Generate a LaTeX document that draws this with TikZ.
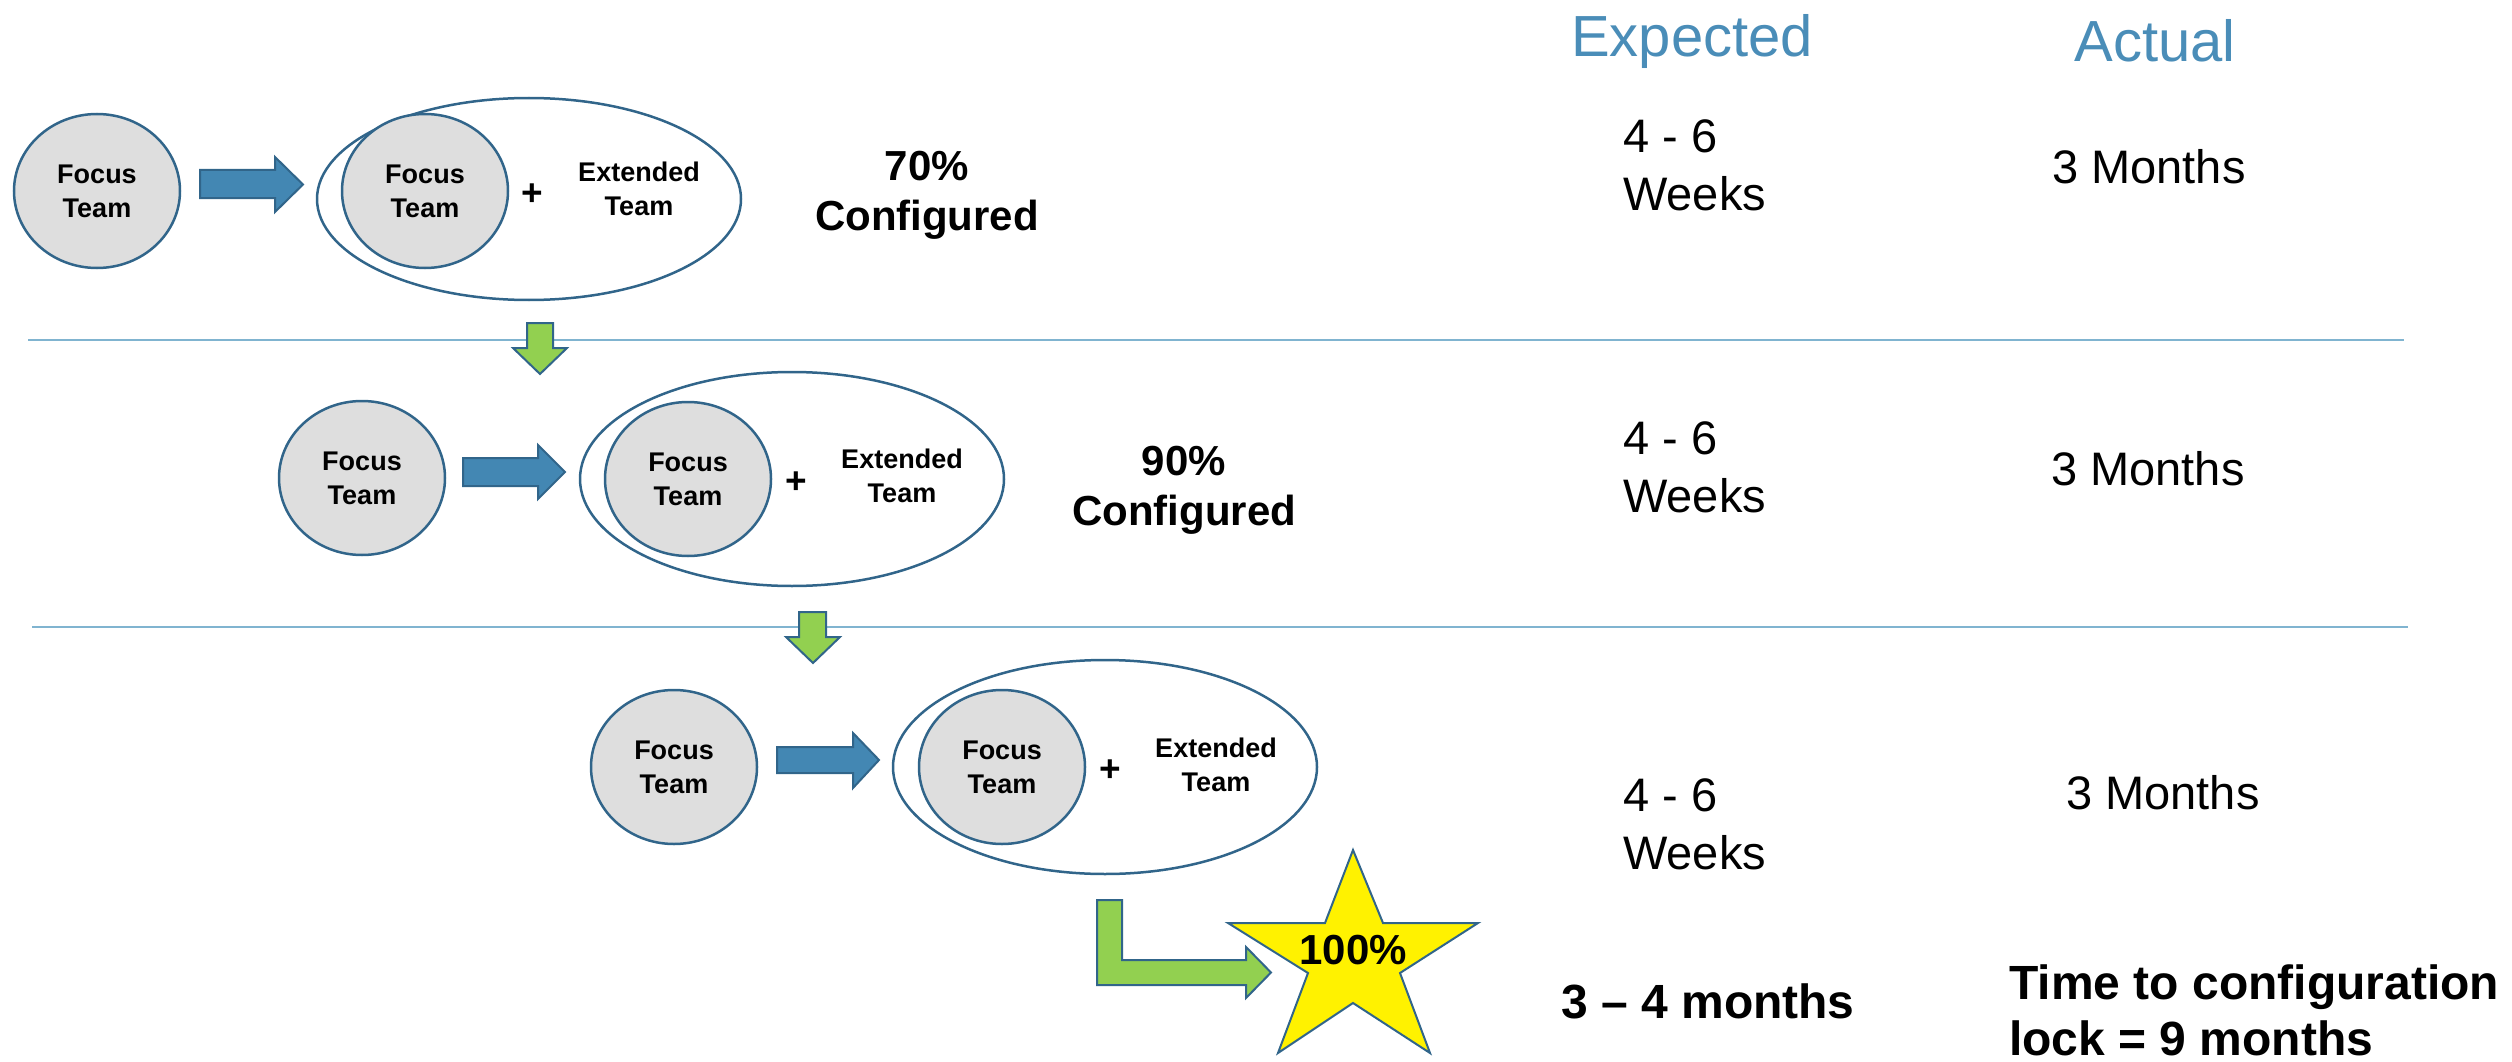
\documentclass[tikz,border=0pt]{standalone}
\usepackage{fontspec}
\setmainfont{Liberation Sans}
\usepackage{xcolor}
\usetikzlibrary{shapes.geometric}

\definecolor{edgeblue}{HTML}{31658A}
\definecolor{arrowblue}{HTML}{4387B3}
\definecolor{teamgray}{HTML}{DEDEDE}
\definecolor{stepgreen}{HTML}{92D050}
\definecolor{rulecol}{HTML}{80B4D0}
\definecolor{headblue}{HTML}{4A8DB8}

\tikzset{
  team/.style={ellipse, draw=edgeblue, line width=2.5pt, fill=teamgray,
    minimum width=166pt, minimum height=154pt, inner sep=0pt,
    align=center, font=\bfseries\fontsize{27}{34}\selectfont},
  group/.style={ellipse, draw=edgeblue, line width=2.5pt, fill=white,
    minimum width=424pt, minimum height=214pt, inner sep=0pt},
  teamtext/.style={align=center, inner sep=0pt, font=\bfseries\fontsize{27}{34}\selectfont},
  plus/.style={inner sep=0pt, font=\bfseries\fontsize{37}{40}\selectfont},
  pct/.style={align=center, inner sep=0pt, font=\bfseries\fontsize{42}{50}\selectfont},
  colhead/.style={inner sep=0pt, text=headblue, font=\fontsize{58}{64}\selectfont},
  weeks/.style={align=left, inner sep=0pt, anchor=west, font=\fontsize{47}{58}\selectfont},
  months/.style={inner sep=0pt, font=\fontsize{47}{58}\selectfont},
  total/.style={align=left, inner sep=0pt, font=\bfseries\fontsize{48}{56}\selectfont},
  bluearrow/.style={fill=arrowblue, draw=edgeblue, line width=2pt},
  greenarrow/.style={fill=stepgreen, draw=edgeblue, line width=2pt},
  rowline/.style={draw=rulecol, line width=2.5pt}
}

\begin{document}
\begin{tikzpicture}[x=1pt,y=-1pt]
  \useasboundingbox (0,0) rectangle (2512,1062);

  % separators between the rounds
  \draw[rowline] (28,340) -- (2404,340);
  \draw[rowline] (32,627) -- (2408,627);

  % first round
  \node[group, minimum height=202pt] (g1) at (529,199) {};
  \node[team] (f1) at (97,191) {Focus\\Team};
  \node[team] (i1) at (425,191) {Focus\\Team};
  \node[plus] (p1) at (532,195) {+};
  \node[teamtext] (x1) at (639,189) {Extended\\Team};
  \draw[bluearrow] (200,170) -- (275,170) -- (275,157) -- (303,184.5)
    -- (275,212) -- (275,198) -- (200,198) -- cycle;
  \node[pct] (c1) at (927,195) {70\%\\Configured};

  % second round
  \draw[greenarrow] (527,323) -- (553,323) -- (553,348) -- (567,348)
    -- (540,374) -- (513,348) -- (527,348) -- cycle;
  \node[group] (g2) at (792,479) {};
  \node[team] (f2) at (362,478) {Focus\\Team};
  \node[team] (i2) at (688,479) {Focus\\Team};
  \node[plus] (p2) at (796,483) {+};
  \node[teamtext] (x2) at (902,476) {Extended\\Team};
  \draw[bluearrow] (463,458) -- (538,458) -- (538,445) -- (565,472)
    -- (538,499) -- (538,486) -- (463,486) -- cycle;
  \node[pct] (c2) at (1184,490) {90\%\\Configured};

  % third round
  \draw[greenarrow] (799,612) -- (826,612) -- (826,637) -- (840,637)
    -- (813,663) -- (786,637) -- (799,637) -- cycle;
  \node[group] (g3) at (1105,767) {};
  \node[team] (f3) at (674,767) {Focus\\Team};
  \node[team] (i3) at (1002,767) {Focus\\Team};
  \node[plus] (p3) at (1110,771) {+};
  \node[teamtext] (x3) at (1216,765) {Extended\\Team};
  \draw[bluearrow] (777,747) -- (853,747) -- (853,733) -- (879,760)
    -- (853,788) -- (853,773) -- (777,773) -- cycle;

  % bent arrow to the star
  \draw[greenarrow] (1097,900) -- (1122,900) -- (1122,960) -- (1246,960)
    -- (1246,947) -- (1271,972.5) -- (1246,998) -- (1246,985)
    -- (1097,985) -- cycle;
  \draw[fill=yellow, draw=edgeblue, line width=2pt]
    (1353,850) -- (1383,923) -- (1478,923) -- (1400,973) -- (1430,1053)
    -- (1353,1003) -- (1278,1053) -- (1308,973) -- (1228,923)
    -- (1325,923) -- cycle;
  \node[pct] (full) at (1353,950) {100\%};

  % timings
  \node[colhead, anchor=base] (expected) at (1692,57) {Expected};
  \node[colhead, anchor=base] (actual) at (2155,62) {Actual};

  \node[weeks] (w1) at (1623,165) {4 - 6\\Weeks};
  \node[weeks] (w2) at (1623,467) {4 - 6\\Weeks};
  \node[weeks] (w3) at (1623,824) {4 - 6\\Weeks};
  \node[months] (m1) at (2149,167) {3 Months};
  \node[months] (m2) at (2148,469) {3 Months};
  \node[months] (m3) at (2163,793) {3 Months};

  \node[total] (sum) at (1708,1001) {3 -- 4 months};
  \node[total, anchor=west] (lock) at (2009,1010) {Time to configuration\\lock = 9 months};
\end{tikzpicture}
\end{document}
